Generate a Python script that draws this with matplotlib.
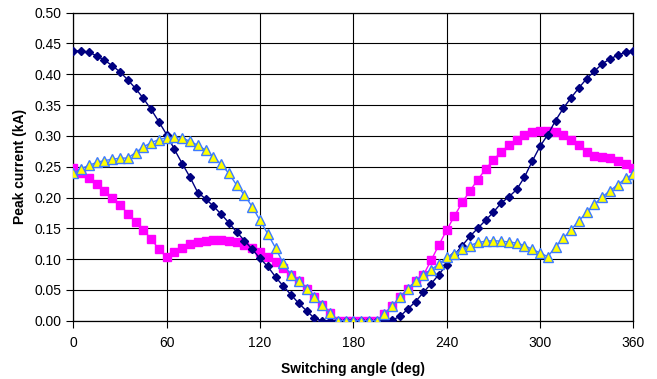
import numpy as np
import matplotlib
matplotlib.use('Agg')
import matplotlib.pyplot as plt

plt.rcParams['font.family'] = ['Liberation Sans', 'DejaVu Sans']

# Switching angle, every 5 degrees
angle = np.arange(0, 361, 5)

# Peak currents (kA)
navy = [0.438, 0.438, 0.436, 0.430, 0.423, 0.414, 0.404, 0.391, 0.377, 0.361,
        0.343, 0.323, 0.302, 0.278, 0.255, 0.233, 0.208, 0.198, 0.186, 0.173,
        0.159, 0.144, 0.130, 0.116, 0.101, 0.088, 0.071, 0.056, 0.042, 0.028,
        0.016, 0.004,
        0, 0, 0, 0, 0, 0, 0, 0, 0,
        0.001, 0.007, 0.019, 0.031, 0.046, 0.060, 0.075, 0.091, 0.107, 0.122,
        0.137, 0.150, 0.163, 0.176, 0.191, 0.201, 0.213, 0.233, 0.259, 0.283,
        0.302, 0.325, 0.345, 0.362, 0.378, 0.393, 0.405, 0.417, 0.425, 0.431,
        0.436, 0.438]

magenta = [0.248, 0.240, 0.231, 0.222, 0.211, 0.199, 0.188, 0.174, 0.161, 0.147,
           0.133, 0.116, 0.103, 0.112, 0.118, 0.125, 0.128, 0.130, 0.131, 0.131,
           0.129, 0.127, 0.123, 0.118, 0.112, 0.104, 0.096, 0.086, 0.075, 0.064,
           0.052, 0.039, 0.025, 0.013,
           0, 0, 0, 0, 0, 0,
           0.011, 0.024, 0.038, 0.052, 0.064, 0.074, 0.098, 0.123, 0.147, 0.170,
           0.192, 0.211, 0.229, 0.246, 0.261, 0.274, 0.285, 0.294, 0.301, 0.307,
           0.308, 0.308, 0.306, 0.301, 0.294, 0.285, 0.274, 0.268, 0.266, 0.264,
           0.260, 0.255, 0.248]

yellow = [0.239, 0.247, 0.252, 0.257, 0.260, 0.262, 0.264, 0.264, 0.273, 0.282,
          0.289, 0.294, 0.297, 0.298, 0.297, 0.291, 0.285, 0.277, 0.266, 0.254,
          0.239, 0.220, 0.204, 0.185, 0.163, 0.141, 0.118, 0.093, 0.074, 0.064,
          0.052, 0.039, 0.025, 0.012,
          0, 0, 0, 0, 0, 0,
          0.011, 0.024, 0.038, 0.052, 0.064, 0.074, 0.083, 0.092, 0.103, 0.109,
          0.116, 0.122, 0.127, 0.129, 0.130, 0.129, 0.128, 0.126, 0.122, 0.116,
          0.110, 0.104, 0.120, 0.134, 0.148, 0.162, 0.176, 0.189, 0.201, 0.211,
          0.221, 0.231, 0.238]

fig = plt.figure(figsize=(6.57, 3.79), dpi=100)
ax = fig.add_axes([0.1116, 0.1538, 0.8524, 0.8127])

ax.plot(angle, magenta, color='#FF00FF', lw=1, marker='s', ms=5.5,
        mfc='#FF00FF', mec='#FF00FF', zorder=3)
ax.plot(angle, navy, color='#000080', lw=1, marker='D', ms=4.5,
        mfc='#000080', mec='#000080', zorder=4)
ax.plot(angle, yellow, color='#3D7BFF', lw=1, marker='^', ms=6.5,
        mfc='#FFFF00', mec='#3D7BFF', mew=1, zorder=5)

ax.set_xlim(0, 360)
ax.set_ylim(0, 0.5)
ax.set_xticks(np.arange(0, 361, 60))
ax.set_yticks(np.arange(0, 0.501, 0.05))
ax.yaxis.set_major_formatter(matplotlib.ticker.FormatStrFormatter('%.2f'))
ax.grid(True, color='black', lw=0.8)
ax.set_axisbelow(True)
for s in ax.spines.values():
    s.set_color('black')
    s.set_linewidth(0.9)
ax.tick_params(labelsize=10, direction='out', length=5, width=0.8, colors='black')
ax.tick_params(axis='x', pad=6)

ax.set_xlabel('Switching angle (deg)', fontsize=10, fontweight='bold', labelpad=9)
ax.set_ylabel('Peak current (kA)', fontsize=10, fontweight='bold', labelpad=5)

plt.savefig('out.png', dpi=100)
